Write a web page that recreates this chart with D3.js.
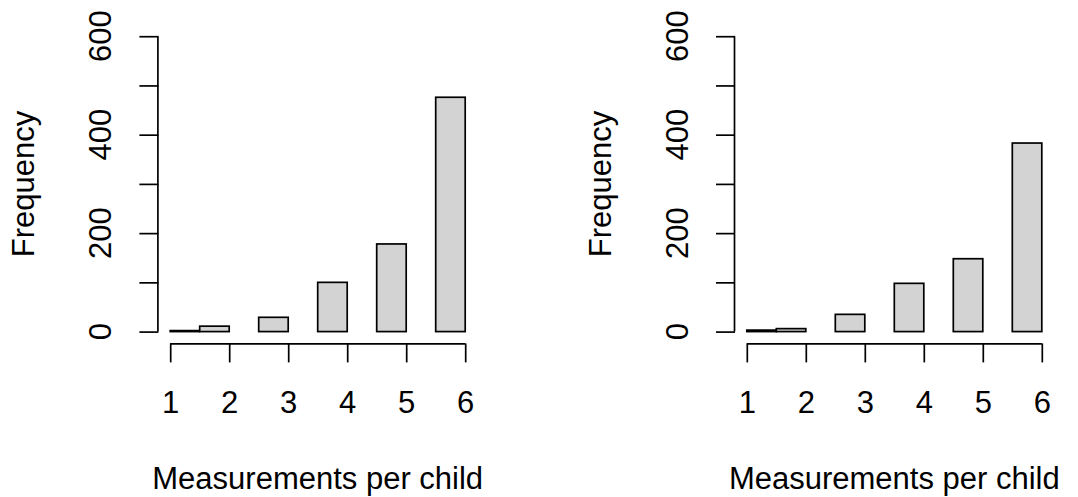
<!DOCTYPE html>
<html>
<head>
<meta charset="utf-8">
<script src="https://cdn.jsdelivr.net/npm/d3@7"></script>
<style>
  html, body { margin: 0; padding: 0; background: #fff; }
  svg { display: block; }
  text { font-family: "Liberation Sans", Arial, Helvetica, sans-serif; fill: #000; }
</style>
</head>
<body>
<svg id="chart" width="1078" height="497"></svg>
<script>
// Histogram bin breaks (width 0.5 from 1 to 6)
const breaks = [1, 1.5, 2, 2.5, 3, 3.5, 4, 4.5, 5, 5.5, 6];
// Counts per bin, left and right panels
const countsLeft  = [2, 11, 0, 29, 0, 100, 0, 178, 0, 476];
const countsRight = [3, 6, 0, 35, 0, 98, 0, 148, 0, 383];
const xTicks = [1, 2, 3, 4, 5, 6];
const yTicks = [0, 100, 200, 300, 400, 500, 600];
const yLabelTicks = [0, 200, 400, 600];
const xTitle = "Measurements per child";
const yTitle = "Frequency";

const svg = d3.select("#chart");
const FS = 31;

function panel(counts, left, right) {
  const top = 24.4, bottom = 343.4;
  const x = d3.scaleLinear().domain([0.8, 6.2]).range([left, right]);
  const y = d3.scaleLinear().domain([-24, 624]).range([bottom, top]);
  const g = svg.append("g");

  const bins = counts.map((c, i) => ({x0: breaks[i], x1: breaks[i + 1], c}));
  g.selectAll("rect.bar").data(bins).join("rect")
    .attr("class", "bar")
    .attr("x", d => x(d.x0))
    .attr("width", d => x(d.x1) - x(d.x0))
    .attr("y", d => y(d.c))
    .attr("height", d => y(0) - y(d.c))
    .attr("fill", "#d3d3d3")
    .attr("stroke", "#000")
    .attr("stroke-width", 1.7);

  // x axis
  const xa = g.append("g").attr("transform", `translate(0,${bottom})`)
    .call(d3.axisBottom(x).tickValues(xTicks).tickSize(19).tickPadding(0).tickFormat(d3.format("d")));
  xa.select(".domain").attr("d", `M${x(1)},0.5H${x(6)}`).attr("stroke-width", 1.7);
  xa.selectAll(".tick line").attr("stroke-width", 1.7);
  xa.selectAll(".tick text").attr("font-size", FS).attr("y", 70).attr("dy", null)
    .style("font-family", "Liberation Sans, Arial, sans-serif");

  // y axis
  const ya = g.append("g").attr("transform", `translate(${left},0)`)
    .call(d3.axisLeft(y).tickValues(yTicks).tickSize(19).tickFormat(""));
  ya.select(".domain").attr("d", `M-0.5,${y(0)}V${y(600)}`).attr("stroke-width", 1.7);
  ya.selectAll(".tick line").attr("stroke-width", 1.7);
  g.selectAll("text.ylab").data(yLabelTicks).join("text")
    .attr("class", "ylab")
    .attr("transform", d => `translate(${left - 47},${y(d)}) rotate(-90)`)
    .attr("text-anchor", "middle")
    .attr("font-size", FS)
    .text(d => d);

  // titles
  g.append("text")
    .attr("x", (left + right) / 2).attr("y", 489)
    .attr("text-anchor", "middle").attr("font-size", FS)
    .text(xTitle);
  g.append("text")
    .attr("transform", `translate(${left - 124},${(top + bottom) / 2}) rotate(-90)`)
    .attr("text-anchor", "middle").attr("font-size", FS)
    .text(yTitle);
}

panel(countsLeft, 158.4, 477);
panel(countsRight, 735, 1053.6);
</script>
</body>
</html>
